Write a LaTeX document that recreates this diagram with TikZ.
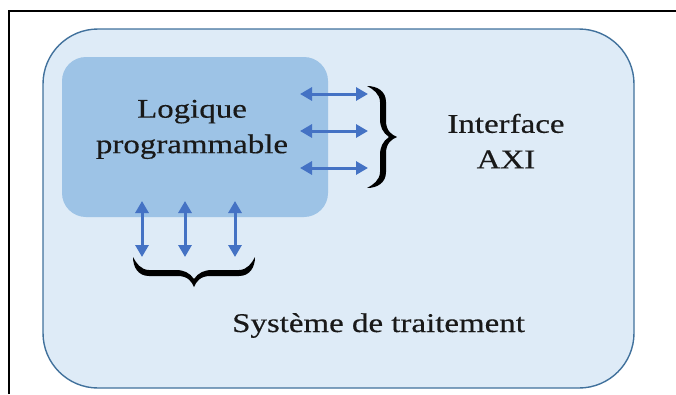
\documentclass[tikz,border=0pt]{standalone}
\usepackage{fontspec}
\setmainfont{Liberation Serif}
\usetikzlibrary{arrows.meta}
\definecolor{sysfill}{HTML}{DEEBF7}
\definecolor{sysline}{HTML}{41719C}
\definecolor{logicfill}{HTML}{9DC3E6}
\definecolor{busblue}{HTML}{4472C4}
\newcommand{\widetxt}[1]{\scalebox{1.22}[1]{#1}}
% filled curly brace of length #1, ends at v=0, tip at v=30
\newcommand{\bracefill}[1]{%
  \pgfmathsetmacro\bh{#1/2}%
  \fill (0,0) .. controls (0,10) and (5,19) .. (16,19) -- (\bh-16,19)
    .. controls (\bh-6,19) and (\bh-2,25) .. (\bh,30)
    .. controls (\bh+2,25) and (\bh+6,19) .. (\bh+16,19) -- (#1-16,19)
    .. controls (#1-5,19) and (#1,10) .. (#1,0)
    .. controls (#1-3,6) and (#1-8,13) .. (#1-16,13) -- (\bh+18,13)
    .. controls (\bh+10,13) and (\bh+4,16) .. (\bh,22)
    .. controls (\bh-4,16) and (\bh-10,13) .. (\bh-18,13) -- (16,13)
    .. controls (8,13) and (3,6) .. (0,0) -- cycle;%
}
\tikzset{
  sysbox/.style={draw=sysline, line width=1.4pt, fill=sysfill, rounded corners=55pt,
    minimum width=591pt, minimum height=359pt, inner sep=0pt},
  logicbox/.style={fill=logicfill, rounded corners=24pt,
    minimum width=266pt, minimum height=160pt, inner sep=0pt},
  lbl/.style={inner sep=0pt, align=center, text=black!90,
    font=\fontsize{27}{35.5}\selectfont\addfontfeatures{FakeBold=0.4}},
  bus/.style={draw=busblue, line width=3pt,
    {Triangle[length=12pt,width=13pt]}-{Triangle[length=12pt,width=13pt]}}
}
\begin{document}
\begin{tikzpicture}[x=1pt,y=-1pt]
  \useasboundingbox (0,0) rectangle (676,394);
  % page frame
  \draw[line width=2pt] (9,394) -- (9,11) -- (676,11);

  % processing system and programmable logic blocks
  \node[sysbox] (sys) at (338.5,208.5) {};
  \node[logicbox] (logic) at (195,137) {};

  \node[lbl, anchor=north] (logictxt) at (192,99.6)
    {\widetxt{Logique}\\\widetxt{programmable}};
  \node[lbl, anchor=north] (axi) at (506,113.6)
    {\widetxt{Interface}\\\widetxt{AXI}};
  \node[lbl, anchor=base] (systxt) at (378.5,332) {\widetxt{Système de traitement}};

  % horizontal bus arrows
  \foreach \i/\y in {1/94,2/131,3/168}{
    \coordinate (hl\i) at (300,\y);
    \coordinate (hr\i) at (368,\y);
    \draw[bus] (hl\i) -- (hr\i);
  }
  % vertical bus arrows
  \foreach \i/\x in {1/142,2/185,3/235}{
    \coordinate (vt\i) at (\x,201);
    \coordinate (vb\i) at (\x,257);
    \draw[bus] (vt\i) -- (vb\i);
  }

  % brace grouping the horizontal buses (points right)
  \begin{scope}[shift={(367,86)}, x={(0pt,-1pt)}, y={(1pt,0pt)}]
    \bracefill{102}
  \end{scope}
  % brace grouping the vertical buses (points down)
  \begin{scope}[shift={(133,257)}, x={(1pt,0pt)}, y={(0pt,-1pt)}]
    \bracefill{122}
  \end{scope}
\end{tikzpicture}
\end{document}
